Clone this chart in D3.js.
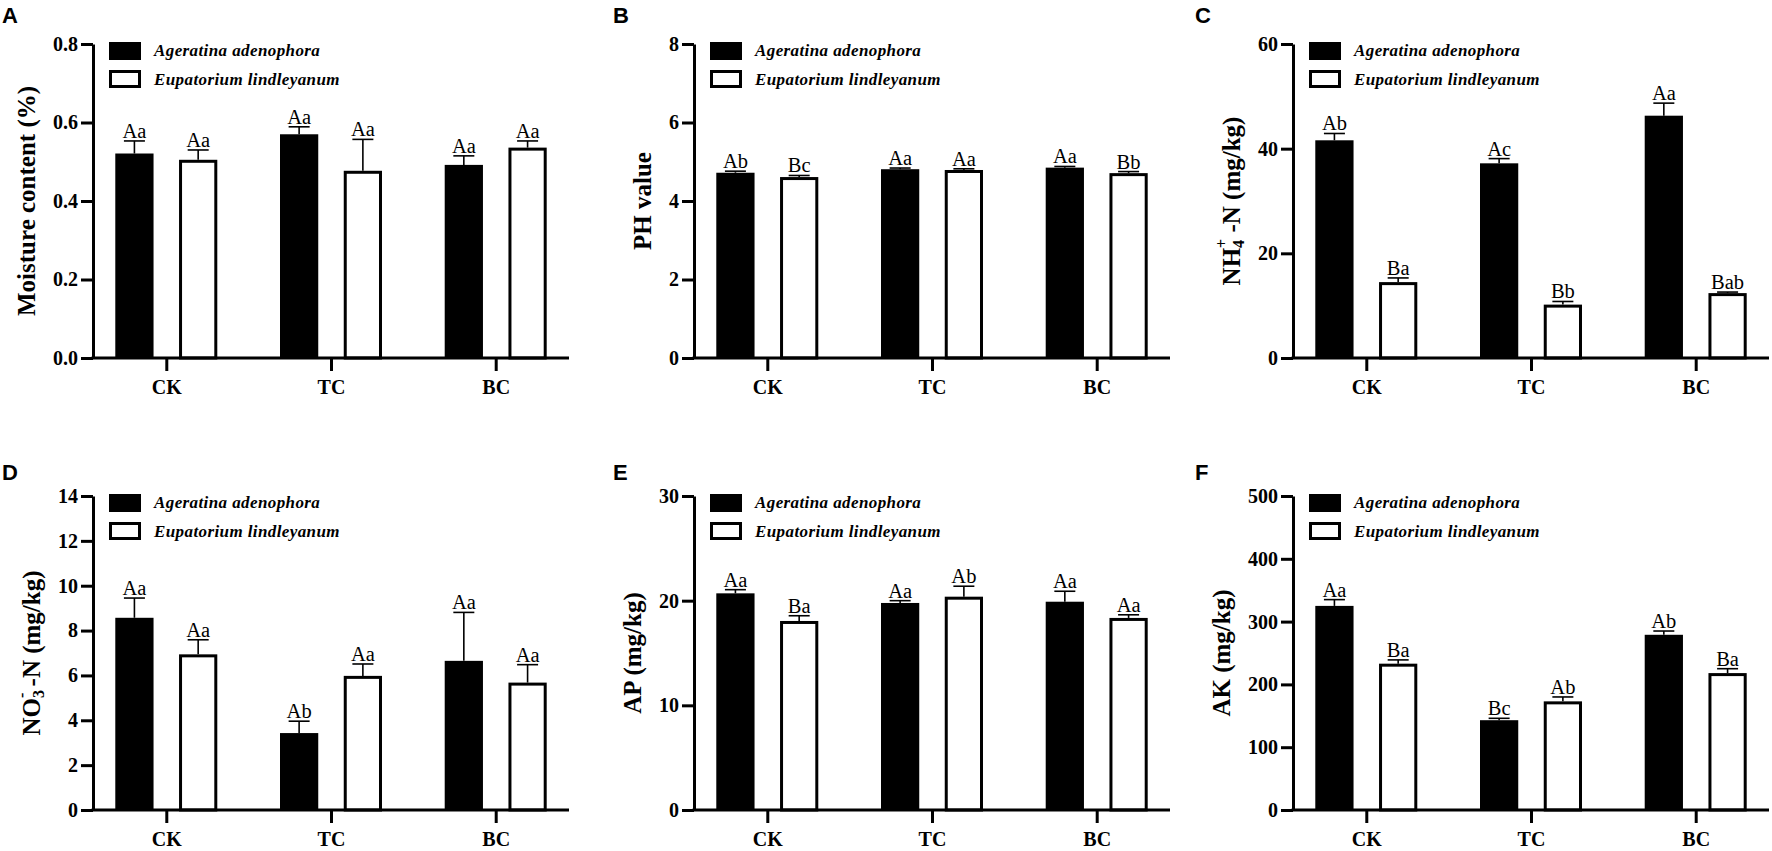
<!DOCTYPE html>
<html>
<head>
<meta charset="utf-8">
<script src="https://cdn.jsdelivr.net/npm/d3@7"></script>
<style>
  body { margin: 0; background: #fff; }
  svg { display: block; }
</style>
</head>
<body>
<svg id="fig" width="1772" height="851"></svg>
<script>
// groups on the x axis and the two species
var groups = ['CK', 'TC', 'BC'];
var species = ['Ageratina adenophora', 'Eupatorium lindleyanum'];

// A - moisture content (%)
var moistureMean = [[0.521, 0.570, 0.492], [0.505, 0.477, 0.536]];
var moistureErr  = [[0.032, 0.019, 0.023], [0.025, 0.080, 0.017]];
var moistureSig  = [['Aa', 'Aa', 'Aa'], ['Aa', 'Aa', 'Aa']];
var moistureTicks = [0, 0.2, 0.4, 0.6, 0.8];

// B - PH value
var phMean = [[4.72, 4.81, 4.85], [4.61, 4.79, 4.71]];
var phErr  = [[0.04, 0.03, 0.03], [0.04, 0.03, 0.04]];
var phSig  = [['Ab', 'Aa', 'Aa'], ['Bc', 'Aa', 'Bb']];
var phTicks = [0, 2, 4, 6, 8];

// C - NH4+-N (mg/kg)
var nh4Mean = [[41.6, 37.2, 46.3], [14.5, 10.2, 12.4]];
var nh4Err  = [[1.3, 0.9, 2.4], [0.8, 0.6, 0.2]];
var nh4Sig  = [['Ab', 'Ac', 'Aa'], ['Ba', 'Bb', 'Bab']];
var nh4Ticks = [0, 20, 40, 60];

// D - NO3--N (mg/kg)
var no3Mean = [[8.57, 3.43, 6.65], [6.94, 5.98, 5.68]];
var no3Err  = [[0.88, 0.53, 2.16], [0.65, 0.53, 0.80]];
var no3Sig  = [['Aa', 'Ab', 'Aa'], ['Aa', 'Aa', 'Aa']];
var no3Ticks = [0, 2, 4, 6, 8, 10, 12, 14];

// E - AP (mg/kg)
var apMean = [[20.7, 19.78, 19.9], [18.06, 20.38, 18.35]];
var apErr  = [[0.35, 0.22, 1.0], [0.5, 1.0, 0.3]];
var apSig  = [['Aa', 'Aa', 'Aa'], ['Ba', 'Ab', 'Aa']];
var apTicks = [0, 10, 20, 30];

// F - AK (mg/kg)
var akMean = [[325, 143, 279], [233, 173, 218]];
var akErr  = [[10, 3, 6], [6, 7, 7]];
var akSig  = [['Aa', 'Bc', 'Ab'], ['Ba', 'Ab', 'Ba']];
var akTicks = [0, 100, 200, 300, 400, 500];

// axis titles, split in pieces for sub/superscripts
var moistureTitle = [['Moisture content (%)', '']];
var phTitle = [['PH value', '']];
var nh4Title = [['NH', ''], ['4', 'sub'], ['+', 'sup'], [' -N (mg/kg)', '']];
var no3Title = [['NO', ''], ['3', 'sub'], ['-', 'sup'], [' -N (mg/kg)', '']];
var apTitle = [['AP (mg/kg)', '']];
var akTitle = [['AK (mg/kg)', '']];

var panels = [
  {letter: 'A', mean: moistureMean, err: moistureErr, sig: moistureSig, ticks: moistureTicks, fmt: d3.format('.1f'), title: moistureTitle},
  {letter: 'B', mean: phMean, err: phErr, sig: phSig, ticks: phTicks, fmt: d3.format('d'), title: phTitle},
  {letter: 'C', mean: nh4Mean, err: nh4Err, sig: nh4Sig, ticks: nh4Ticks, fmt: d3.format('d'), title: nh4Title},
  {letter: 'D', mean: no3Mean, err: no3Err, sig: no3Sig, ticks: no3Ticks, fmt: d3.format('d'), title: no3Title},
  {letter: 'E', mean: apMean, err: apErr, sig: apSig, ticks: apTicks, fmt: d3.format('d'), title: apTitle},
  {letter: 'F', mean: akMean, err: akErr, sig: akSig, ticks: akTicks, fmt: d3.format('d'), title: akTitle}
];

// layout
var colX = [93, 694, 1293];
var rowTop = [44, 496];
var plotW = 476, plotH = 314;
var serif = "'Liberation Serif', 'Times New Roman', serif";
var sans = "'Liberation Sans', Arial, sans-serif";

var svg = d3.select('#fig');

function drawPanel(p, i) {
  var col = i % 3, row = Math.floor(i / 3);
  var g = svg.append('g')
    .attr('transform', 'translate(' + colX[col] + ',' + rowTop[row] + ')');

  var y = d3.scaleLinear().domain([0, d3.max(p.ticks)]).range([plotH, 0]);
  var x = d3.scalePoint().domain(groups).range([0, plotW]).padding(0.445);
  var xs = d3.scaleBand().domain([0, 1]).range([-51, 51]).paddingInner(0.4);
  var bw = xs.bandwidth();

  // flatten to one record per bar
  var rows = [];
  p.mean.forEach(function (ser, s) {
    ser.forEach(function (v, k) {
      rows.push({s: s, grp: groups[k], v: v, e: p.err[s][k], sig: p.sig[s][k]});
    });
  });

  var bar = g.selectAll('.bar').data(rows).enter().append('g').attr('class', 'bar')
    .attr('transform', function (d) { return 'translate(' + (x(d.grp) + xs(d.s)) + ',0)'; });

  // error bars, upward only
  bar.append('line')
    .attr('x1', bw / 2).attr('x2', bw / 2)
    .attr('y1', function (d) { return y(d.v); })
    .attr('y2', function (d) { return y(d.v + d.e); })
    .attr('stroke', '#000').attr('stroke-width', 1.6);
  bar.append('line')
    .attr('x1', bw / 2 - 10.5).attr('x2', bw / 2 + 10.5)
    .attr('y1', function (d) { return y(d.v + d.e); })
    .attr('y2', function (d) { return y(d.v + d.e); })
    .attr('stroke', '#000').attr('stroke-width', 1.6);

  bar.append('rect')
    .attr('x', function (d) { return d.s ? 1.5 : 0; })
    .attr('width', function (d) { return d.s ? bw - 3 : bw; })
    .attr('y', function (d) { return y(d.v) + (d.s ? 1.5 : 0); })
    .attr('height', function (d) { return plotH - y(d.v) - (d.s ? 1.5 : 0); })
    .attr('fill', function (d) { return d.s ? '#fff' : '#000'; })
    .attr('stroke', function (d) { return d.s ? '#000' : 'none'; })
    .attr('stroke-width', 3);

  bar.append('text')
    .attr('x', bw / 2)
    .attr('y', function (d) { return y(d.v + d.e) - 3; })
    .attr('text-anchor', 'middle')
    .attr('font-family', serif).attr('font-size', 20.5)
    .text(function (d) { return d.sig; });

  // axes
  var ya = g.append('g')
    .call(d3.axisLeft(y).tickValues(p.ticks).tickFormat(p.fmt).tickSize(12).tickSizeOuter(0).tickPadding(3));
  var xa = g.append('g').attr('transform', 'translate(0,' + plotH + ')')
    .call(d3.axisBottom(x).tickSize(13).tickSizeOuter(0).tickPadding(9));
  [ya, xa].forEach(function (a) {
    a.attr('font-family', serif).attr('font-size', 20).attr('font-weight', 'bold');
    a.selectAll('path, line').attr('stroke', '#000').attr('stroke-width', 3);
    a.selectAll('text').attr('fill', '#000');
  });
  xa.select('.domain').attr('d', 'M-1.5,0H' + plotW);

  // axis title, centred on the plot height, placed left of the tick labels
  var left = ya.node().getBBox().x;
  var title = g.append('text')
    .attr('transform', 'translate(' + (left - 27) + ',' + plotH / 2 + ') rotate(-90)')
    .attr('text-anchor', 'middle').attr('dominant-baseline', 'central')
    .attr('font-family', serif).attr('font-size', 25).attr('font-weight', 'bold');
  p.title.forEach(function (part) {
    var t = title.append('tspan').text(part[0]);
    if (part[1] === 'sub') t.attr('font-size', 16).attr('dy', 7);
    if (part[1] === 'sup') t.attr('font-size', 16).attr('dx', -8).attr('dy', -17);
    if (part[1] === '' && title.selectAll('tspan').size() > 1) t.attr('dy', 10);
  });

  // legend
  var lg = g.append('g');
  species.forEach(function (name, s) {
    lg.append('rect')
      .attr('x', s ? 17.5 : 16).attr('y', s ? 27.5 : -2)
      .attr('width', s ? 29 : 32).attr('height', s ? 15 : 18)
      .attr('fill', s ? '#fff' : '#000')
      .attr('stroke', s ? '#000' : 'none').attr('stroke-width', 3);
    lg.append('text')
      .attr('x', 61).attr('y', s ? 41 : 12)
      .attr('font-family', serif).attr('font-size', 17)
      .attr('font-weight', 'bold').attr('font-style', 'italic')
      .attr('letter-spacing', 0.4)
      .text(name);
  });

  // panel letter
  svg.append('text')
    .attr('x', [2, 613, 1195][col]).attr('y', row ? 480 : 23)
    .attr('font-family', sans).attr('font-size', 22).attr('font-weight', 'bold')
    .text(p.letter);
}

panels.forEach(drawPanel);
</script>
</body>
</html>
